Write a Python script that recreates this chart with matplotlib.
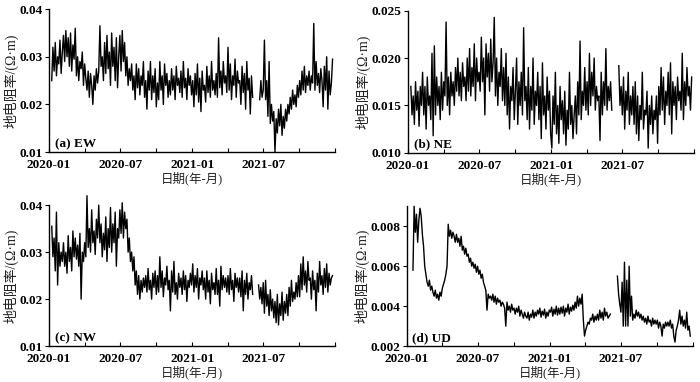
import numpy as np
import pandas as pd
import matplotlib
matplotlib.use("Agg")
import matplotlib.pyplot as plt

# ---- data: values, one row per month (~3 day step)
# EW, NE, NW in 1e-4 ohm*m, UD in 1e-5 ohm*m ; None = no data
ew = [
    250, 320, 270, 330, 260, 300, 285, 335, 265, 310,
    345, 290, 355, 300, 340, 280, 350, 270, 325, 295,
    360, 260, 300, 250, 290, 275, 310, 240, 285, 255,
    230, 270, 215, 265, 240, 200, 260, 230, 275, 245,
    270, 365, 280, 300, 250, 330, 265, 345, 275, 310,
    240, 350, 280, 320, 250, 340, 235, 300, 345, 270,
    355, 290, 330, 260, 300, 240, 275, 250, 285, 230,
    260, 210, 285, 235, 275, 220, 260, 240, 290, 215,
    250, 190, 270, 230, 290, 210, 260, 225, 275, 195,
    245, 210, 290, 230, 260, 200, 285, 240, 265, 215,
    250, 220, 275, 230, 260, 210, 280, 240, 255, 225,
    270, 215, 290, 235, 255, 210, 275, 240, 260, 220,
    250, 195, 265, 220, 285, 205, 255, 185, 270, 230,
    240, 205, 280, 225, 260, 215, 290, 230, 250, 220,
    265, 215, 340, 235, 270, 220, 290, 245, 260, 225,
    320, 230, 285, 210, 260, 240, 295, 215, 270, 245,
    250, 200, 280, 225, 265, 190, 290, 230, 255, 180,
    260, 215, None, None, None, None, None, 210, 250, 215,
    230, 335, 210, 250, 175, 290, 160, 200, 165, 185,
    100, 170, 140, 190, 155, 200, 135, 175, 150, 190,
    165, 200, 180, 215, 190, 230, 200, 220, 195, 240,
    215, 250, 220, 270, 230, 280, 225, 260, 240, 270,
    230, 260, 245, 370, 230, 290, 240, 265, 225, 275,
    250, 195, 280, 230, 300, 190, 270, 220, 245, 295,
]
ne = [
    170, 140, 160, 130, 175, 145, 165, 128, 170, 150,
    185, 140, 170, 125, 180, 150, 160, 135, 205, 118,
    213, 140, 180, 150, 170, 135, 185, 145, 175, 160,
    238, 150, 180, 140, 185, 160, 175, 150, 190, 165,
    200, 160, 185, 155, 195, 170, 180, 155, 200, 165,
    210, 160, 190, 170, 215, 155, 200, 175, 185, 165,
    222, 175, 200, 140, 215, 180, 205, 165, 220, 175,
    195, 243, 160, 200, 150, 185, 170, 210, 155, 190,
    150, 205, 140, 180, 125, 170, 155, 190, 135, 165,
    200, 130, 175, 150, 185, 140, 232, 155, 170, 135,
    190, 125, 170, 145, 200, 130, 165, 150, 185, 135,
    170, 115, 195, 140, 160, 125, 180, 145, 165, 120,
    105, 160, 130, 185, 120, 150, 110, 170, 135, 155,
    120, 165, 108, 145, 125, 185, 130, 150, 115, 140,
    160, 120, 175, 140, 218, 135, 165, 150, 190, 145,
    175, 140, 205, 150, 185, 160, 200, 145, 170, 155,
    160, 113, 185, 140, 175, 150, 210, 145, 170, 155,
    175, 145, None, None, None, None, None, 192, 150, 170,
    140, 180, 125, 165, 145, 185, 130, 160, 140, 170,
    130, 175, 120, 160, 113, 150, 135, 185, 125, 145,
    140, 165, 105, 150, 130, 160, 120, 145, 135, 160,
    110, 170, 140, 190, 145, 180, 130, 165, 150, 185,
    140, 195, 120, 175, 150, 170, 135, 180, 155, 165,
    145, 205, 135, 175, 150, 190, 160, 170, 145, 180,
]
nw = [
    355, 290, 330, 260, 385, 230, 320, 270, 300, 280,
    320, 270, 300, 255, 335, 280, 310, 260, 345, 290,
    330, 285, 315, 270, 340, 200, 300, 280, 320, 290,
    420, 310, 350, 300, 390, 320, 345, 295, 370, 330,
    400, 320, 360, 290, 340, 305, 375, 280, 350, 310,
    395, 300, 360, 320, 385, 270, 350, 330, 390, 340,
    405, 330, 385, 350, 370, 300, 330, 280, 300, 260,
    290, 230, 260, 210, 250, 200, 240, 215, 245, 225,
    250, 215, 265, 220, 240, 200, 255, 225, 260, 210,
    250, 215, 290, 225, 260, 205, 245, 230, 270, 220,
    240, 175, 260, 215, 280, 210, 235, 200, 255, 225,
    245, 210, 260, 220, 250, 195, 240, 225, 255, 230,
    275, 215, 250, 225, 265, 200, 245, 230, 260, 220,
    245, 200, 260, 215, 240, 190, 255, 220, 235, 210,
    265, 210, 240, 185, 270, 220, 250, 225, 245, 215,
    250, 210, 265, 220, 240, 195, 255, 225, 245, 215,
    245, 205, 260, 175, 240, 210, 255, 200, 235, 220,
    250, 210, None, None, None, None, 230, 200, 225, 190,
    235, 170, 240, 185, 210, 165, 220, 175, 200, 160,
    195, 150, 210, 145, 190, 165, 215, 155, 195, 170,
    210, 165, 225, 185, 240, 195, 215, 200, 235, 205,
    250, 205, 275, 220, 290, 230, 260, 215, 280, 240,
    245, 200, 260, 220, 240, 175, 255, 215, 280, 230,
    250, 210, 265, 225, 275, 215, 255, 230, 245, 250,
]
ud = [
    None, None, None, 580, 900, 770, 860, 720, 830, 890,
    850, 760, 700, 600, 560, 520, 500, 530, 480, 500,
    470, 450, 480, 440, 460, 430, 470, 450, 490, 510,
    530, 560, 600, 810, 750, 780, 740, 770, 750, 720,
    760, 720, 740, 700, 750, 680, 700, 660, 690, 650,
    660, 620, 640, 600, 620, 590, 610, 570, 600, 560,
    580, 540, 560, 520, 500, 480, 380, 460, 440, 450,
    430, 460, 420, 450, 410, 440, 420, 430, 400, 420,
    410, 390, 300, 420, 380, 400, 370, 410, 380, 390,
    360, 390, 370, 400, 350, 380, 360, 340, 370, 350,
    340, 370, 330, 360, 345, 380, 340, 370, 350, 380,
    360, 390, 345, 375, 355, 385, 340, 370, 350, 380,
    370, 395, 350, 385, 360, 400, 355, 390, 360, 395,
    365, 400, 350, 390, 370, 410, 360, 395, 375, 405,
    380, 420, 390, 450, 400, 440, 410, 460, 330, 250,
    280, 300, 320, 310, 340, 330, 360, 320, 350, 330,
    360, 330, 380, 340, 370, 330, 390, 350, 370, 340,
    350, 360, None, None, None, None, None, 550, 460, 410,
    370, 520, 300, 620, 300, 530, 300, 600, 350, 450,
    330, 360, 340, 380, 350, 370, 340, 360, 330, 350,
    320, 340, 310, 350, 320, 330, 300, 340, 310, 330,
    310, 330, 290, 320, 300, 250, 310, 290, 320, 300,
    320, 300, 330, 290, 310, 250, 220, 280, 300, 330,
    380, 310, 350, 300, 330, 290, 370, 280, 300, 250,
]

panels = [
    ("(a) EW", np.array(ew, dtype=float) * 1e-4, (0.01, 0.04), [0.01, 0.02, 0.03, 0.04], "%.2f"),
    ("(b) NE", np.array(ne, dtype=float) * 1e-4, (0.010, 0.025), [0.010, 0.015, 0.020, 0.025], "%.3f"),
    ("(c) NW", np.array(nw, dtype=float) * 1e-4, (0.01, 0.04), [0.01, 0.02, 0.03, 0.04], "%.2f"),
    ("(d) UD", np.array(ud, dtype=float) * 1e-5, (0.002, 0.009), [0.002, 0.004, 0.006, 0.008], "%.3f"),
]
dates = pd.date_range("2020-01-08", periods=len(ew), freq="3D")

tick_dates = pd.date_range("2020-01-01", "2022-01-01", freq="3MS")
tick_labels = ["2020-01", "", "2020-07", "", "2021-01", "", "2021-07", "", ""]

serif = ["Liberation Serif", "Noto Sans CJK SC"]

# axes rectangles in figure fractions
rects = [
    [0.070, 0.602, 0.409, 0.374],
    [0.583, 0.600, 0.409, 0.372],
    [0.070, 0.094, 0.409, 0.369],
    [0.581, 0.094, 0.409, 0.366],
]

fig = plt.figure(figsize=(7, 3.82), dpi=100)
for (label, vals, ylim, yt, fmt), r in zip(panels, rects):
    ax = fig.add_axes(r)
    ax.plot(dates, vals, color="black", lw=1.0, clip_on=False)
    ax.set_xlim(pd.Timestamp("2020-01-01"), pd.Timestamp("2022-01-01"))
    ax.set_ylim(*ylim)
    ax.set_yticks(yt)
    ax.set_yticklabels([fmt % v for v in yt], family=serif, fontweight="bold", fontsize=9.5)
    ax.set_xticks(tick_dates)
    ax.set_xticklabels(tick_labels, family=serif, fontweight="bold", fontsize=9.5)
    ax.tick_params(axis="x", direction="in", length=3, width=0.8, pad=5)
    ax.tick_params(axis="y", direction="out", length=3, width=0.8, pad=1.5)
    for s in ["top", "right"]:
        ax.spines[s].set_visible(False)
    for s in ["left", "bottom"]:
        ax.spines[s].set_linewidth(1.0)
    ax.text(0.02, 0.015, label, transform=ax.transAxes, family=serif,
            fontweight="bold", fontsize=9.5, ha="left", va="bottom")
    ax.set_ylabel("地电阻率/(Ω·m)", family=serif, fontsize=10, color="#222222", labelpad=1)
    ax.set_xlabel("日期(年-月)", family=serif, fontsize=9, color="#222222", labelpad=0.5)

fig.savefig("out.png", dpi=100)
